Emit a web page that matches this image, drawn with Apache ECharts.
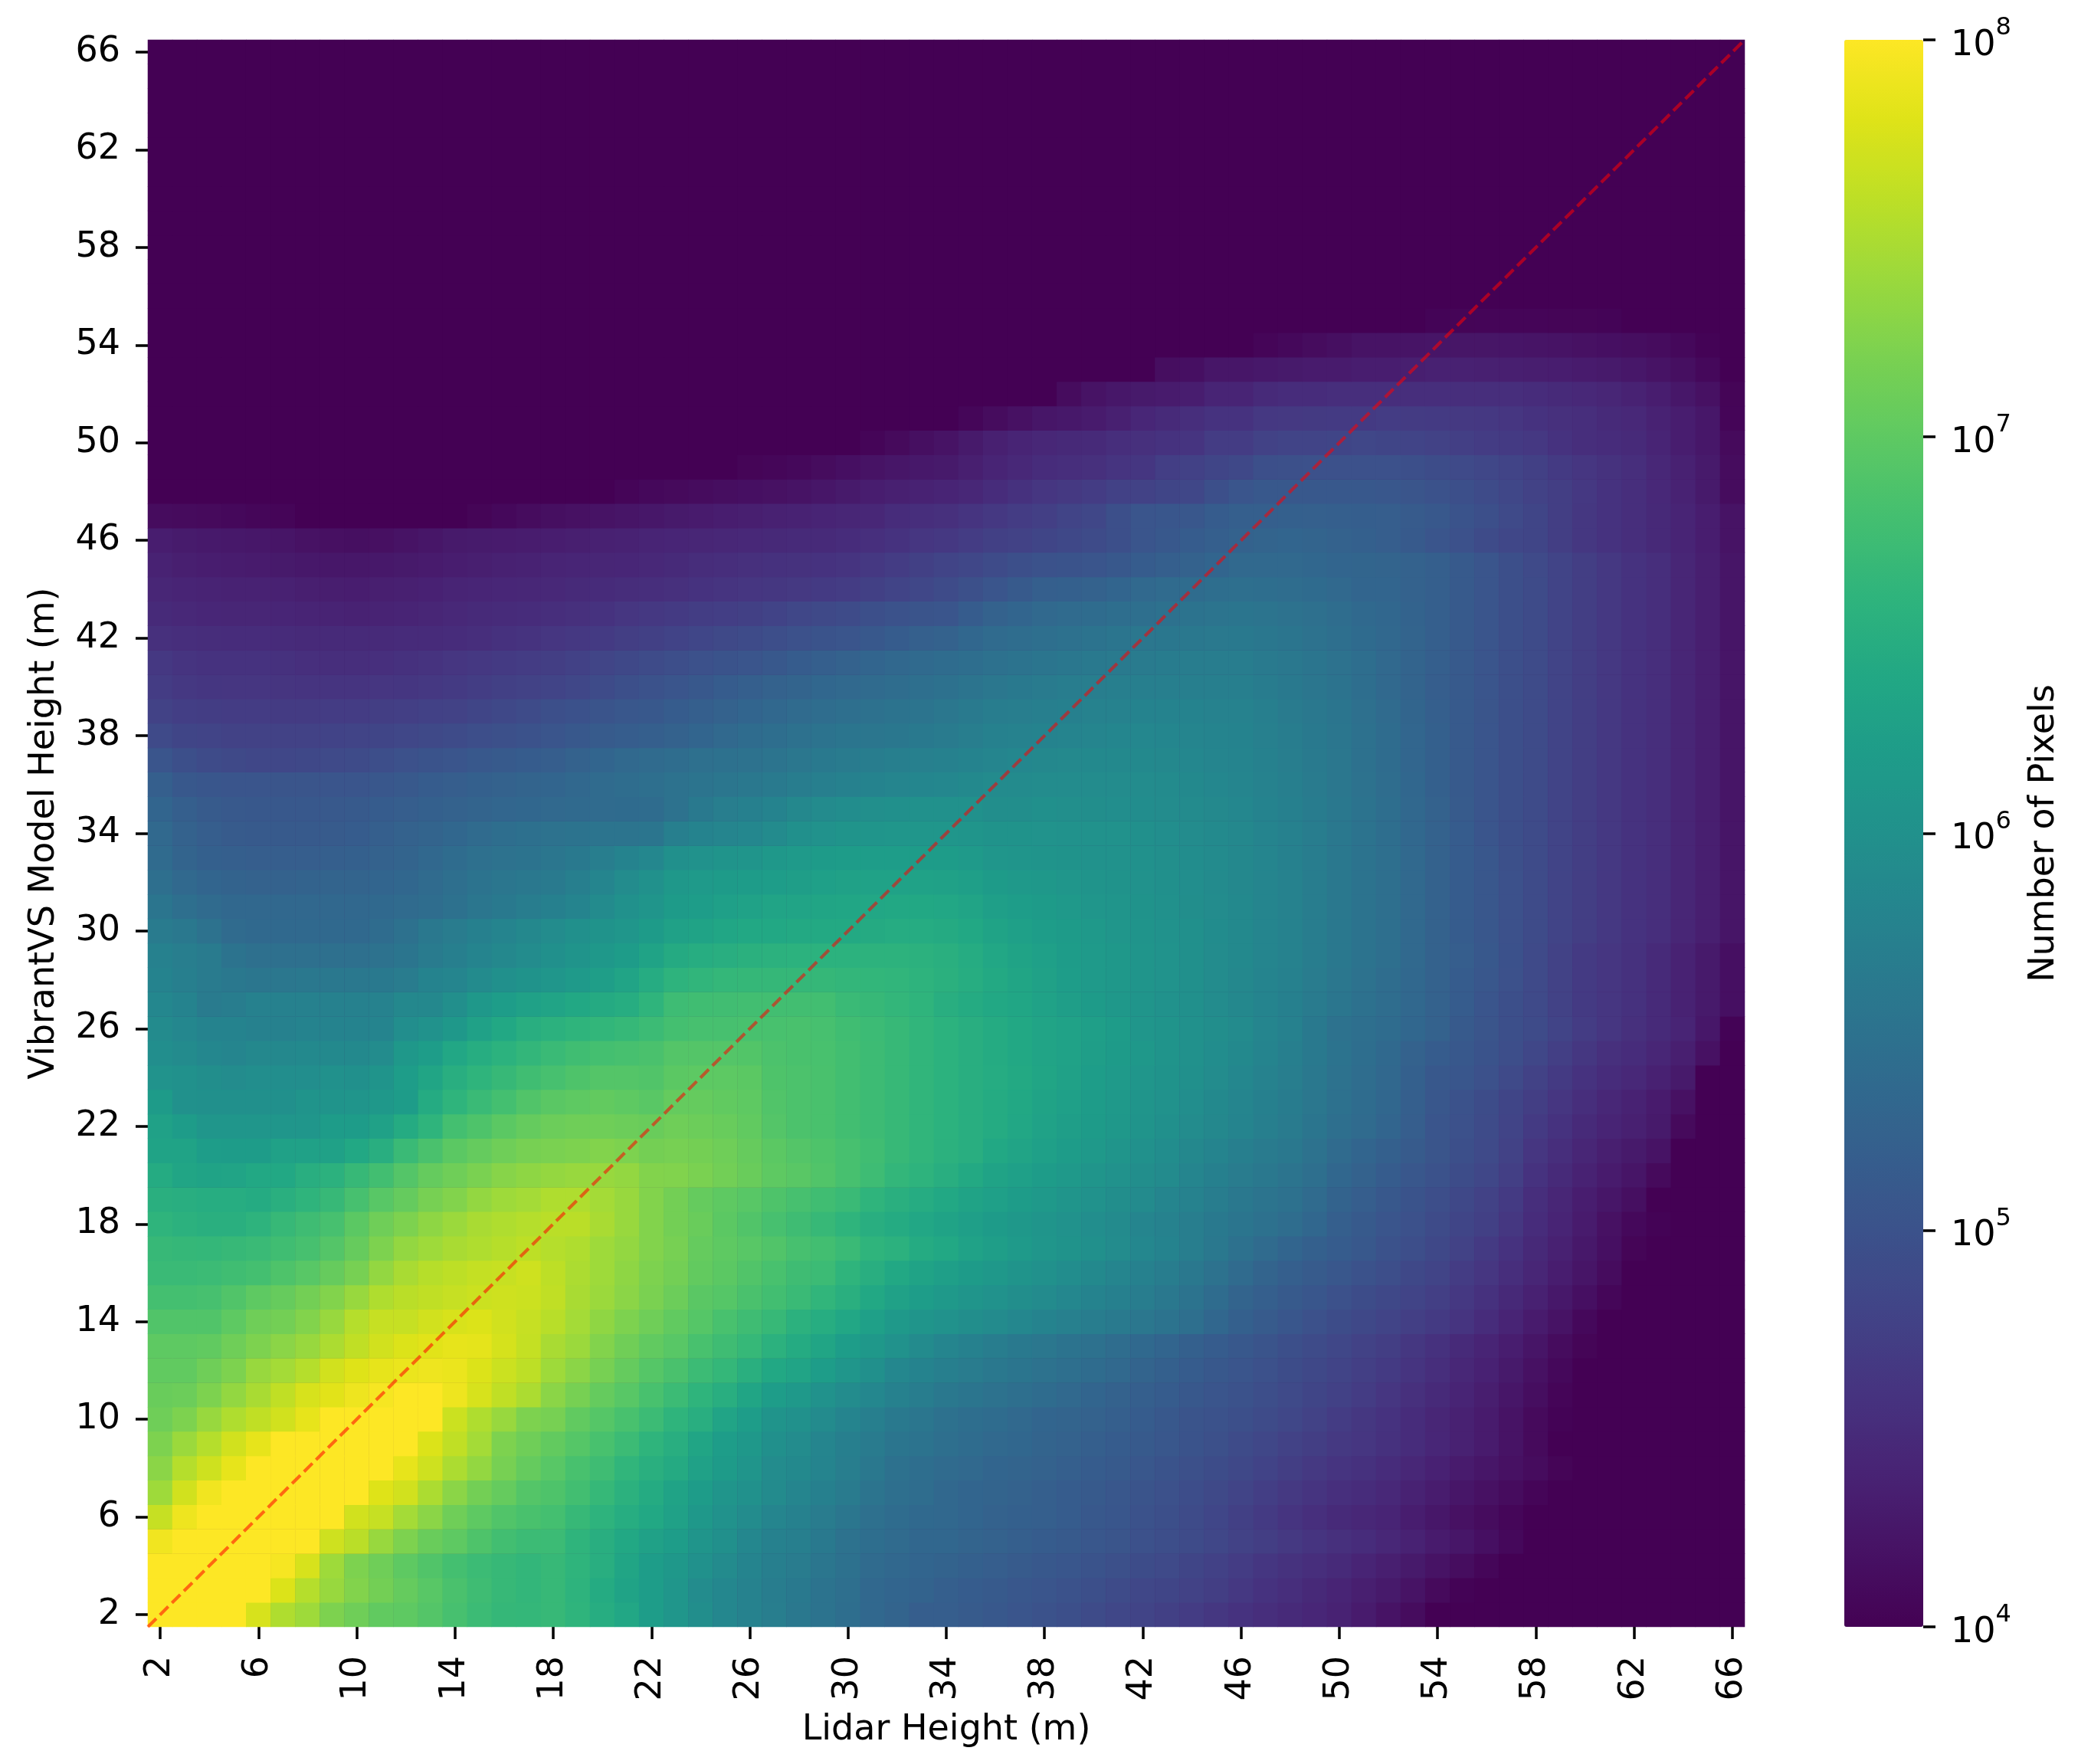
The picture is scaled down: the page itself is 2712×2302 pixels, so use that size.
<!DOCTYPE html>
<html>
<head>
<meta charset="utf-8">
<title>Lidar vs VibrantVS height</title>
<script src="https://cdn.jsdelivr.net/npm/echarts@6/dist/echarts.min.js"></script>
<style>
html, body { margin: 0; padding: 0; background: #fff; }
#chart { width: 2712px; height: 2302px; }
</style>
</head>
<body>
<div id="chart"></div>
<script>
// height bins, both axes
var heights = [];
for (var h = 2; h <= 66; h++) heights.push(String(h));

// viridis stops
var viridis = ['#440154','#471365','#482475','#463480','#414487','#3b528b','#355f8d','#2f6c8e','#2a788e','#25848e','#21918c','#1e9c89','#22a884','#2fb47c','#44bf70','#5ec962','#7ad151','#9bd93c','#bddf26','#dfe318','#fde725'];

// reference line, in cell units from the lower left corner
var lineX = [0, 65];
var lineY = [0, 65];

// log10(pixel count) x 100. first row is y=2, last is y=66, each row x=2..66
var logCounts = [
[800,800,800,800,775,752,742,722,712,702,700,692,682,672,666,665,668,660,648,638,622,610,596,584,576,570,560,552,544,534,527,518,518,514,510,505,500,495,490,485,480,475,470,464,458,453,448,443,438,430,420,412,400,400,400,400,400,400,400,400,400,400,400,400,400],
[800,800,800,800,800,778,755,738,725,715,705,695,685,675,668,664,668,658,645,632,622,610,592,584,576,568,562,552,545,534,530,526,520,516,512,508,505,500,495,490,485,482,478,472,465,458,452,446,440,434,428,420,410,402,400,400,400,400,400,400,400,400,400,400,400],
[800,800,800,800,800,795,775,742,722,712,700,690,680,672,668,664,668,660,650,635,622,612,600,590,580,572,566,556,548,538,534,530,526,522,518,514,510,506,502,497,492,488,482,476,470,463,457,452,447,440,434,428,420,413,406,400,400,400,400,400,400,400,400,400,400],
[792,800,800,800,800,800,800,770,758,738,722,708,700,688,678,672,672,660,650,640,628,622,608,598,584,575,572,562,550,543,538,533,532,528,524,520,516,512,508,504,498,494,490,484,478,472,466,460,455,450,444,438,430,424,416,408,400,400,400,400,400,400,400,400,400],
[765,790,800,800,800,800,800,800,772,765,745,730,712,700,690,684,680,668,658,648,640,628,612,602,592,582,575,566,556,546,540,536,534,530,525,522,520,516,510,506,500,495,490,483,475,468,460,454,448,444,440,432,425,418,412,406,400,400,400,400,400,400,400,400,400],
[742,772,792,800,800,800,800,800,800,780,772,750,730,715,705,692,688,678,667,655,645,632,620,608,600,590,582,574,565,553,545,541,534,530,528,524,520,516,512,508,503,498,493,487,480,473,466,460,454,450,445,438,431,424,418,412,405,400,400,400,400,400,400,400,400],
[730,755,770,785,800,800,800,800,800,800,785,770,750,735,718,705,695,683,675,662,652,644,628,618,608,592,588,580,570,560,548,544,538,535,530,527,524,520,516,512,507,502,497,492,486,479,472,466,460,456,450,444,437,430,424,418,412,404,400,400,400,400,400,400,400],
[722,740,755,772,785,800,800,800,800,800,800,778,762,745,722,712,703,693,683,672,660,650,635,622,612,598,592,582,572,565,555,552,545,540,535,532,528,524,520,516,512,507,502,497,490,484,478,472,466,462,456,450,443,436,430,420,410,400,400,400,400,400,400,400,400],
[712,722,738,752,762,772,785,800,800,800,800,800,768,752,738,722,718,702,693,683,672,660,650,634,622,606,600,590,580,572,562,556,548,544,540,535,530,528,525,520,515,510,503,500,495,490,485,478,470,464,458,450,442,436,430,420,410,402,400,400,400,400,400,400,400],
[708,710,722,735,748,762,775,782,790,795,800,800,790,775,762,750,730,718,705,695,683,672,660,650,635,622,614,602,592,584,575,568,560,555,550,545,540,535,530,525,520,516,510,505,500,494,488,482,476,470,462,455,447,440,433,424,414,405,400,400,400,400,400,400,400],
[702,702,712,722,738,745,755,772,780,785,788,790,788,778,768,760,742,730,718,705,693,685,672,665,652,640,634,622,610,598,585,578,572,566,560,555,550,545,540,535,528,522,516,510,505,498,492,486,480,474,468,460,452,444,437,428,418,408,400,400,400,400,400,400,400],
[700,700,702,712,722,730,738,750,762,772,778,782,785,784,774,764,748,740,725,713,702,695,683,675,667,655,645,635,622,612,602,590,582,575,568,562,558,552,548,542,536,530,522,516,510,503,496,490,484,478,472,464,456,448,440,432,422,412,404,400,400,400,400,400,400],
[690,690,690,700,712,715,725,738,755,765,765,772,776,778,772,765,757,745,733,722,712,702,693,683,675,668,655,648,638,626,615,608,602,596,590,584,578,573,568,563,558,552,545,532,522,514,506,498,492,486,480,474,468,460,450,440,430,420,408,400,400,400,400,400,400],
[680,680,682,690,700,706,715,725,738,752,758,762,765,768,770,768,762,748,740,730,720,710,697,693,685,678,670,662,652,640,628,622,615,608,602,596,590,585,578,574,568,560,552,540,528,520,512,506,498,492,486,480,474,465,456,446,436,426,416,406,400,400,400,400,400],
[670,670,672,676,680,688,695,706,718,735,748,756,760,764,766,770,760,750,742,732,722,715,703,698,690,683,675,672,660,650,640,632,625,618,612,606,600,594,588,582,575,568,560,550,538,528,520,514,508,500,494,486,480,470,462,452,442,432,422,412,400,400,400,400,400],
[668,666,665,668,670,676,682,692,706,722,735,742,748,752,756,760,755,752,742,735,725,718,705,700,695,690,682,678,670,660,655,645,640,630,624,616,610,604,598,592,585,578,570,560,548,538,530,522,516,510,500,494,486,478,468,458,446,436,426,416,404,400,400,400,400],
[660,655,652,652,658,668,675,682,698,712,722,732,740,748,752,755,758,758,748,738,725,715,708,698,690,682,675,668,660,650,645,638,632,625,618,612,608,602,595,590,582,576,570,562,555,548,542,532,520,512,505,498,490,482,475,464,450,440,430,418,408,402,400,400,400],
[652,650,648,648,645,652,660,668,682,695,705,718,725,735,742,745,752,752,745,738,725,715,705,700,695,688,682,676,670,660,652,646,640,632,626,620,614,608,602,596,590,582,576,568,560,554,548,538,526,518,510,502,494,486,478,468,452,442,432,424,415,400,400,400,400],
[645,635,632,634,640,640,650,655,668,678,692,705,712,720,728,732,736,738,738,735,725,724,720,714,708,700,696,690,682,674,664,658,650,642,632,626,620,614,608,602,596,590,582,574,566,560,554,545,532,524,516,508,500,492,484,474,458,448,438,430,422,410,400,400,400],
[632,632,622,620,620,628,628,628,640,650,670,685,698,705,712,718,720,722,725,722,716,718,716,712,706,698,692,688,682,676,668,662,655,650,640,634,626,620,614,608,600,594,586,580,572,565,560,550,538,530,522,514,504,496,488,478,462,452,442,434,428,420,400,400,400],
[628,620,610,610,610,610,610,620,620,628,645,660,680,688,698,705,710,712,712,710,708,712,710,707,702,692,686,684,678,673,668,662,656,650,645,638,630,624,618,612,605,598,592,586,580,572,565,555,545,538,530,518,505,498,490,480,468,458,448,440,435,428,410,400,400],
[618,600,598,598,598,598,605,605,608,612,620,645,660,670,680,690,697,700,703,700,696,705,705,702,700,690,686,684,678,673,668,662,656,650,645,640,632,626,620,614,608,602,595,588,582,574,567,558,548,540,532,520,508,500,492,482,472,462,452,444,438,430,418,400,400],
[603,600,596,592,595,595,595,600,598,605,622,635,650,660,668,676,682,688,692,692,690,698,699,699,698,688,686,684,678,673,668,662,656,650,646,642,635,628,622,616,610,604,598,592,585,577,570,560,550,542,534,522,510,506,498,488,478,468,458,450,445,436,428,400,400],
[595,590,585,582,586,586,588,588,588,592,612,622,638,648,656,664,670,676,680,682,685,692,692,692,691,686,684,683,678,673,668,662,656,650,645,640,634,630,624,618,612,606,600,594,588,580,572,562,552,544,536,524,515,510,502,494,484,474,464,455,450,442,434,418,400],
[590,585,578,578,575,575,578,578,578,580,595,602,612,628,640,650,655,660,663,667,672,680,682,682,683,683,684,682,676,672,668,662,656,650,645,640,634,630,625,620,610,606,600,596,590,582,575,562,550,545,540,532,525,512,504,496,490,480,470,462,455,448,440,425,402],
[585,578,565,568,575,575,575,575,575,577,586,586,597,612,622,628,634,640,644,648,660,674,676,677,678,678,678,678,670,668,664,660,650,645,640,636,630,624,618,612,608,602,598,592,586,580,574,565,556,549,542,534,525,515,505,495,488,478,468,462,456,448,438,428,416],
[578,572,565,560,556,558,560,560,560,562,566,578,582,590,598,604,610,616,624,634,646,658,662,665,666,666,666,666,664,663,662,658,654,648,642,635,628,622,616,612,608,603,598,592,586,580,575,566,558,550,542,534,525,516,508,498,488,478,468,462,456,448,438,428,416],
[575,570,565,552,546,546,546,546,546,550,555,565,572,580,586,592,598,606,612,620,632,644,648,650,654,655,656,656,656,657,657,655,652,646,638,632,626,620,616,612,608,603,598,592,588,582,576,568,560,552,545,535,525,518,510,499,488,478,468,462,456,448,438,428,416],
[565,560,550,538,536,536,536,536,536,540,548,560,566,574,580,586,592,598,604,610,618,628,632,636,640,640,642,642,642,644,646,646,644,640,632,626,622,618,614,610,606,602,598,593,588,582,576,568,560,552,545,535,525,516,508,498,490,480,472,465,458,452,442,434,422],
[555,545,538,534,534,534,534,534,534,536,538,542,548,556,562,568,574,580,590,600,608,618,622,626,630,634,634,635,636,638,640,640,638,634,625,622,618,614,610,607,604,600,596,592,588,582,576,568,560,552,545,535,525,516,508,498,490,480,472,465,458,452,442,434,422],
[545,535,530,526,525,525,526,527,528,530,532,538,545,552,556,560,564,572,582,592,600,612,616,618,620,622,624,626,628,630,630,630,628,625,618,615,612,609,606,604,602,598,595,590,586,581,576,568,560,552,545,535,525,516,508,498,490,480,472,465,458,452,442,434,422],
[538,528,522,520,518,518,518,520,522,525,528,534,540,546,550,552,556,562,570,578,585,598,602,606,608,612,616,618,620,622,622,620,620,616,610,608,606,604,602,601,600,597,594,590,586,581,575,568,560,552,545,535,525,516,508,497,490,480,472,465,458,452,442,434,422],
[535,525,518,514,512,512,512,514,516,520,524,528,532,538,543,547,550,552,553,554,555,572,578,582,585,590,598,602,606,608,610,610,610,608,604,604,603,602,602,601,598,595,592,589,586,580,575,568,560,552,544,534,524,515,505,495,490,480,472,465,458,452,442,434,422],
[530,520,514,511,510,510,510,511,512,515,518,522,525,528,531,533,535,537,538,539,540,550,562,570,574,578,586,590,594,597,598,600,600,600,596,596,598,597,596,595,594,592,590,587,584,579,574,567,560,552,544,534,524,514,505,495,490,480,472,465,458,452,442,434,422],
[520,510,506,505,505,504,504,505,505,508,511,515,518,522,525,528,530,534,538,542,545,550,554,557,560,564,568,572,575,578,581,583,585,588,590,591,592,592,592,592,592,590,588,585,582,577,572,565,558,550,542,532,522,513,505,495,490,480,472,465,458,452,442,434,422],
[505,495,490,487,485,485,486,488,490,494,498,502,505,509,512,515,518,524,530,535,538,542,546,548,550,554,558,562,565,568,571,573,575,579,582,584,586,587,588,588,588,586,585,582,580,575,570,564,558,549,540,531,522,513,505,495,490,480,472,465,458,452,442,434,422],
[488,482,480,478,478,478,478,479,480,482,484,487,490,494,497,500,505,510,514,517,520,525,530,535,540,544,548,552,555,557,559,562,565,570,575,577,578,580,582,583,584,583,582,580,578,573,568,562,556,548,540,531,522,513,505,495,490,480,472,465,458,452,442,434,422],
[478,473,471,470,470,469,469,470,470,472,474,476,478,482,486,490,495,499,503,507,510,515,520,525,530,534,538,542,545,548,551,554,558,563,568,570,572,574,576,577,578,578,578,577,576,571,565,560,555,546,538,529,520,512,504,495,490,480,472,465,458,452,442,434,422],
[470,465,463,462,462,461,460,460,460,462,463,465,468,471,475,478,480,485,490,495,500,505,510,515,520,524,528,532,535,538,541,545,548,553,558,562,565,568,570,571,572,572,572,572,572,567,562,557,552,544,535,527,518,512,505,495,490,480,472,465,458,452,442,434,422],
[465,460,458,458,458,456,454,453,452,454,456,459,462,465,468,470,472,476,481,486,490,494,498,502,505,510,515,520,525,530,534,537,540,544,548,552,555,559,562,564,565,567,568,568,568,564,560,555,550,543,535,527,520,512,505,495,490,480,472,465,458,452,442,434,422],
[455,452,451,450,450,449,448,448,448,448,449,449,450,453,456,459,462,465,468,472,475,479,483,487,490,494,498,502,505,510,516,521,525,532,538,542,545,549,552,555,558,559,560,561,562,559,555,550,545,539,534,527,520,512,505,495,490,480,472,465,458,452,442,434,422],
[448,445,443,442,442,441,440,439,438,439,440,442,445,447,449,450,452,455,458,462,465,468,471,473,475,479,484,487,490,495,500,503,505,515,525,530,535,538,540,543,545,549,552,554,555,553,550,546,542,536,532,526,520,512,505,496,490,480,472,465,458,452,442,434,422],
[442,440,439,438,438,436,434,433,432,434,435,437,440,441,443,444,445,447,449,451,452,455,458,460,462,464,466,468,470,475,480,485,490,497,505,512,520,522,525,530,535,538,540,543,545,544,542,539,535,530,530,525,520,512,505,496,490,480,472,465,458,452,442,434,422],
[438,434,432,431,430,428,426,425,425,426,428,430,432,434,436,438,440,441,442,443,445,448,451,453,455,456,457,458,460,465,470,475,480,485,490,495,500,502,505,510,515,520,525,530,535,535,535,533,530,529,528,524,520,512,505,496,488,480,472,465,458,452,442,434,422],
[432,429,427,426,425,422,419,417,415,417,420,424,428,429,430,431,432,434,436,438,440,441,442,444,445,446,447,448,450,454,458,462,465,470,475,478,482,486,490,495,505,510,516,520,524,528,530,528,525,522,518,512,505,498,490,484,482,472,464,458,452,446,440,432,420],
[412,411,410,408,406,405,400,400,400,400,400,400,400,404,408,412,415,418,420,422,425,428,430,432,434,436,438,440,442,444,450,452,455,460,465,470,474,480,485,496,505,506,508,515,520,520,522,521,520,519,518,514,510,502,495,488,482,472,464,458,452,446,440,432,420],
[400,400,400,400,400,400,400,400,400,400,400,400,400,400,400,400,400,400,400,405,408,410,412,414,416,418,420,424,428,432,435,438,440,444,450,456,462,466,470,476,478,482,485,495,505,510,510,510,510,510,508,504,500,495,490,484,478,472,465,458,452,445,438,428,412],
[400,400,400,400,400,400,400,400,400,400,400,400,400,400,400,400,400,400,400,400,400,400,400,400,404,406,408,412,416,420,424,426,428,434,440,445,450,452,455,460,463,473,476,482,486,495,497,498,498,498,498,495,492,488,485,480,475,468,462,457,452,444,436,428,412],
[400,400,400,400,400,400,400,400,400,400,400,400,400,400,400,400,400,400,400,400,400,400,400,400,400,400,400,400,400,405,410,415,420,428,435,440,444,446,448,452,455,458,460,470,470,477,480,480,482,484,482,480,478,474,470,468,465,458,452,450,448,440,432,425,410],
[400,400,400,400,400,400,400,400,400,400,400,400,400,400,400,400,400,400,400,400,400,400,400,400,400,400,400,400,400,400,400,400,400,406,412,418,424,426,430,435,443,448,452,458,458,465,466,467,468,468,470,469,468,466,465,462,458,455,452,448,445,438,432,425,405],
[400,400,400,400,400,400,400,400,400,400,400,400,400,400,400,400,400,400,400,400,400,400,400,400,400,400,400,400,400,400,400,400,400,400,400,400,400,412,420,425,428,430,432,440,440,447,450,450,452,452,452,453,453,453,452,452,450,448,445,442,438,432,425,418,404],
[400,400,400,400,400,400,400,400,400,400,400,400,400,400,400,400,400,400,400,400,400,400,400,400,400,400,400,400,400,400,400,400,400,400,400,400,400,400,400,400,400,414,416,424,424,426,428,430,430,432,432,434,436,436,435,434,433,432,430,428,425,420,415,408,400],
[400,400,400,400,400,400,400,400,400,400,400,400,400,400,400,400,400,400,400,400,400,400,400,400,400,400,400,400,400,400,400,400,400,400,400,400,400,400,400,400,400,400,400,400,400,405,408,412,415,420,420,421,422,423,423,422,421,420,418,416,414,412,408,402,400],
[400,400,400,400,400,400,400,400,400,400,400,400,400,400,400,400,400,400,400,400,400,400,400,400,400,400,400,400,400,400,400,400,400,400,400,400,400,400,400,400,400,400,400,400,400,400,400,400,400,400,400,400,403,404,405,405,405,404,404,403,400,400,400,400,400],
[400,400,400,400,400,400,400,400,400,400,400,400,400,400,400,400,400,400,400,400,400,400,400,400,400,400,400,400,400,400,400,400,400,400,400,400,400,400,400,400,400,400,400,400,400,400,400,400,400,400,400,400,400,400,400,400,400,400,400,400,400,400,400,400,400],
[400,400,400,400,400,400,400,400,400,400,400,400,400,400,400,400,400,400,400,400,400,400,400,400,400,400,400,400,400,400,400,400,400,400,400,400,400,400,400,400,400,400,400,400,400,400,400,400,400,400,400,400,400,400,400,400,400,400,400,400,400,400,400,400,400],
[400,400,400,400,400,400,400,400,400,400,400,400,400,400,400,400,400,400,400,400,400,400,400,400,400,400,400,400,400,400,400,400,400,400,400,400,400,400,400,400,400,400,400,400,400,400,400,400,400,400,400,400,400,400,400,400,400,400,400,400,400,400,400,400,400],
[400,400,400,400,400,400,400,400,400,400,400,400,400,400,400,400,400,400,400,400,400,400,400,400,400,400,400,400,400,400,400,400,400,400,400,400,400,400,400,400,400,400,400,400,400,400,400,400,400,400,400,400,400,400,400,400,400,400,400,400,400,400,400,400,400],
[400,400,400,400,400,400,400,400,400,400,400,400,400,400,400,400,400,400,400,400,400,400,400,400,400,400,400,400,400,400,400,400,400,400,400,400,400,400,400,400,400,400,400,400,400,400,400,400,400,400,400,400,400,400,400,400,400,400,400,400,400,400,400,400,400],
[400,400,400,400,400,400,400,400,400,400,400,400,400,400,400,400,400,400,400,400,400,400,400,400,400,400,400,400,400,400,400,400,400,400,400,400,400,400,400,400,400,400,400,400,400,400,400,400,400,400,400,400,400,400,400,400,400,400,400,400,400,400,400,400,400],
[400,400,400,400,400,400,400,400,400,400,400,400,400,400,400,400,400,400,400,400,400,400,400,400,400,400,400,400,400,400,400,400,400,400,400,400,400,400,400,400,400,400,400,400,400,400,400,400,400,400,400,400,400,400,400,400,400,400,400,400,400,400,400,400,400],
[400,400,400,400,400,400,400,400,400,400,400,400,400,400,400,400,400,400,400,400,400,400,400,400,400,400,400,400,400,400,400,400,400,400,400,400,400,400,400,400,400,400,400,400,400,400,400,400,400,400,400,400,400,400,400,400,400,400,400,400,400,400,400,400,400],
[400,400,400,400,400,400,400,400,400,400,400,400,400,400,400,400,400,400,400,400,400,400,400,400,400,400,400,400,400,400,400,400,400,400,400,400,400,400,400,400,400,400,400,400,400,400,400,400,400,400,400,400,400,400,400,400,400,400,400,400,400,400,400,400,400],
[400,400,400,400,400,400,400,400,400,400,400,400,400,400,400,400,400,400,400,400,400,400,400,400,400,400,400,400,400,400,400,400,400,400,400,400,400,400,400,400,400,400,400,400,400,400,400,400,400,400,400,400,400,400,400,400,400,400,400,400,400,400,400,400,400],
[400,400,400,400,400,400,400,400,400,400,400,400,400,400,400,400,400,400,400,400,400,400,400,400,400,400,400,400,400,400,400,400,400,400,400,400,400,400,400,400,400,400,400,400,400,400,400,400,400,400,400,400,400,400,400,400,400,400,400,400,400,400,400,400,400]
];

var cells = [];
for (var i = 0; i < logCounts.length; i++) {
    if (logCounts[i].length != 65) throw new Error('row y=' + (i + 2) + ' has ' + logCounts[i].length);
    for (var j = 0; j < logCounts[i].length; j++) {
        cells.push([j, i, logCounts[i][j] / 100]);
    }
}

var fontName = 'DejaVu Sans';
var fontSize = 46;

var plotRect = {left: 193, top: 52, width: 2084, height: 2071};
var barRect = {left: 2407, top: 52, width: 103, height: 2071};

var chart = echarts.init(document.getElementById('chart'), null, {renderer: 'canvas'});

chart.setOption({
    animation: false,
    backgroundColor: '#fff',
    textStyle: {fontFamily: fontName, color: '#000'},
    grid: [
        {left: plotRect.left, top: plotRect.top, width: plotRect.width, height: plotRect.height, show: true, backgroundColor: viridis[0], borderWidth: 0},
        plotRect,
        barRect
    ],
    xAxis: [{
        type: 'category',
        gridIndex: 0,
        data: heights,
        name: 'Lidar Height (m)',
        nameLocation: 'middle',
        nameGap: 112,
        nameTextStyle: {fontFamily: fontName, fontSize: fontSize, color: '#000'},
        axisLine: {show: false},
        axisTick: {show: true, alignWithLabel: true, interval: 3, length: 16, lineStyle: {color: '#000', width: 3.5}},
        axisLabel: {interval: 3, rotate: 90, margin: 38, fontFamily: fontName, fontSize: fontSize, color: '#000'},
        splitLine: {show: false}
    }, {
        type: 'value', gridIndex: 1, min: lineX[0], max: lineX[1], show: false
    }, {
        type: 'value', gridIndex: 2, min: 0, max: 1, show: false
    }],
    yAxis: [{
        type: 'category',
        gridIndex: 0,
        data: heights,
        name: 'VibrantVS Model Height (m)',
        nameLocation: 'middle',
        nameGap: 112,
        nameTextStyle: {fontFamily: fontName, fontSize: fontSize, color: '#000'},
        axisLine: {show: false},
        axisTick: {show: true, alignWithLabel: true, interval: 3, length: 16, lineStyle: {color: '#000', width: 3.5}},
        axisLabel: {interval: 3, margin: 36, fontFamily: fontName, fontSize: fontSize, color: '#000'},
        splitLine: {show: false}
    }, {
        type: 'value', gridIndex: 1, min: lineY[0], max: lineY[1], show: false
    }, {
        type: 'log',
        gridIndex: 2,
        logBase: 10,
        min: 10000,
        max: 100000000,
        position: 'right',
        name: 'Number of Pixels',
        nameLocation: 'middle',
        nameRotate: 90,
        nameGap: 135,
        nameTextStyle: {fontFamily: fontName, fontSize: fontSize, color: '#000'},
        axisLine: {show: false, onZero: false},
        axisTick: {show: true, length: 16, lineStyle: {color: '#000', width: 3.5}},
        minorTick: {show: false},
        splitLine: {show: false},
        axisLabel: {
            margin: 36,
            showMinLabel: true,
            showMaxLabel: true,
            formatter: function (v) {
                return '{base|10}{sup|' + Math.round(Math.log(v) / Math.LN10) + '}';
            },
            rich: {
                base: {fontFamily: fontName, fontSize: fontSize, color: '#000', lineHeight: 62, verticalAlign: 'bottom'},
                sup: {fontFamily: fontName, fontSize: 32, color: '#000', lineHeight: 62, verticalAlign: 'top'}
            }
        }
    }],
    visualMap: {
        type: 'continuous',
        seriesIndex: 0,
        dimension: 2,
        min: 4,
        max: 8,
        calculable: false,
        hoverLink: false,
        left: barRect.left,
        top: barRect.top,
        padding: 0,
        itemWidth: barRect.width,
        itemHeight: barRect.height,
        text: null,
        showLabel: false,
        inRange: {color: viridis}
    },
    series: [{
        type: 'heatmap',
        xAxisIndex: 0,
        yAxisIndex: 0,
        data: cells,
        progressive: 0,
        emphasis: {disabled: true}
    }, {
        type: 'line',
        xAxisIndex: 1,
        yAxisIndex: 1,
        data: [[lineX[0], lineY[0]], [lineX[1], lineY[1]]],
        symbol: 'none',
        silent: true,
        z: 5,
        lineStyle: {color: '#ff0000', opacity: 0.55, width: 4.2, type: [15.4, 6.7]}
    }]
});
</script>
</body>
</html>
